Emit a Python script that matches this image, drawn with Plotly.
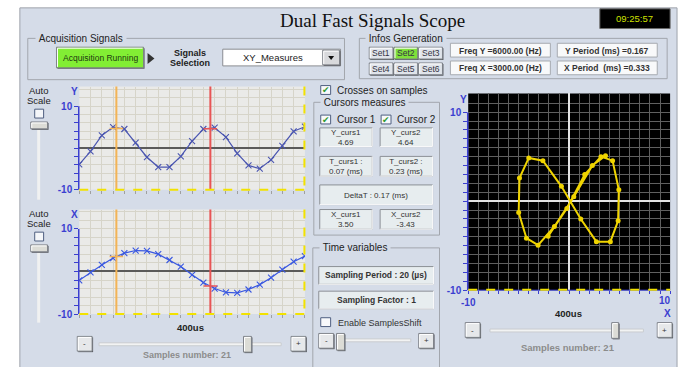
import plotly.graph_objects as go

W, H = 681, 367

# ---------------- data ----------------
samples = list(range(21))
y_signal = [-3.93, -0.82, 3.0, 5.0, 4.55, 1.28, -2.2, -4.55, -4.55, -2.0, 1.67,
            4.55, 4.86, 2.6, -1.28, -4.16, -4.94, -2.84, 0.5, 4.0, 5.1]
x_signal = [-2.08, -0.23, 1.54, 3.15, 4.3, 4.92, 4.85, 4.08, 2.7, 1.15, -0.77,
            -2.6, -4.0, -4.92, -5.0, -4.23, -3.08, -1.46, 0.46, 2.3, 3.6]
cursor_pos = [3.29, 11.62]
y_curs = [4.69, 4.64]
x_curs = [3.50, -3.43]
chart_ticks = [-10, -8, -6, -4, -2, 0, 2, 4, 6, 8, 10]
xy_ticks = list(range(-10, 11))
set_labels = ["Set1", "Set2", "Set3", "Set4", "Set5", "Set6"]

# ---------------- style ----------------
SANS = "Liberation Sans, Arial, sans-serif"
SERIF = "Liberation Serif, Times New Roman, serif"
PANEL = "#d5dce8"
EDGE = "#9a9fa8"
BLUE = "#3b3fd0"
GRID = "#d6d4c9"
PLOTBG = "#eaeae8"
ORANGE = "#f3b456"
RED = "#e85555"
YELLOW = "#f2e200"


def X(p):
    return p / W


def Y(p):
    return 1 - p / H


shapes = []
annos = []


def rect(x0, y0, x1, y1, fill=None, line=EDGE, lw=1, layer="below"):
    shapes.append(dict(type="rect", xref="paper", yref="paper",
                       x0=X(x0), x1=X(x1), y0=Y(y1), y1=Y(y0),
                       fillcolor=fill if fill else "rgba(0,0,0,0)",
                       line=dict(color=line, width=lw) if line else dict(width=0),
                       layer=layer))


def hline(x0, x1, y, color, lw=1, dash="solid", layer="below"):
    shapes.append(dict(type="line", xref="paper", yref="paper", x0=X(x0), x1=X(x1),
                       y0=Y(y), y1=Y(y), line=dict(color=color, width=lw, dash=dash),
                       layer=layer))


def vline(x, y0, y1, color, lw=1, dash="solid", layer="below"):
    shapes.append(dict(type="line", xref="paper", yref="paper", x0=X(x), x1=X(x),
                       y0=Y(y0), y1=Y(y1), line=dict(color=color, width=lw, dash=dash),
                       layer=layer))


def tri(pts, fill):
    d = "M " + " L ".join("%f,%f" % (X(a), Y(b)) for a, b in pts) + " Z"
    shapes.append(dict(type="path", xref="paper", yref="paper", path=d,
                       fillcolor=fill, line=dict(width=0), layer="below"))


def text(x, y, s, size=9.5, color="#222", bold=False, anchor="center",
         family=SANS, bg=None):
    a = dict(xref="paper", yref="paper", x=X(x), y=Y(y),
             text=("<b>%s</b>" % s) if bold else s, showarrow=False,
             xanchor=anchor, yanchor="middle", borderpad=0,
             font=dict(size=size, color=color, family=family))
    if bg:
        a["bgcolor"] = bg
    annos.append(a)


def button(x0, y0, x1, y1, fill="#e6e8ea", label=None, size=8, color="#333"):
    rect(x0 + 1, y0 + 1, x1 + 1, y1 + 1, fill="#5a5d62", line=None)
    rect(x0, y0, x1, y1, fill=fill, line="#7d8188")
    hline(x0 + 1, x1 - 1, y0 + 1, "#ffffff", 1)
    vline(x0 + 1, y0 + 1, y1 - 1, "#ffffff", 1)
    if label:
        text((x0 + x1) / 2, (y0 + y1) / 2, label, size=size, color=color)


def checkbox(x0, y0, checked):
    rect(x0, y0, x0 + 10, y0 + 9, fill="#f8f9fb", line="#4f5f80")
    if checked:
        text(x0 + 5, y0 + 4.5, "✔", size=9, color="#2f9a2f", family="DejaVu Sans")


def infobox(x0, y0, x1, y1, label=None, fill="#e7edef"):
    rect(x0, y0, x1, y1, fill=fill, line="#8c9096")
    hline(x0, x1, y1, "#ffffff", 1)
    vline(x1, y0, y1, "#ffffff", 1)
    if label:
        text((x0 + x1) / 2, (y0 + y1) / 2 + 0.5, label, size=8, color="#333")


def groupbox(x0, y0, x1, y1, title, tx):
    rect(x0, y0, x1, y1, fill=None, line="#a2a6ad")
    text(tx, y0, "\u00a0" + title + "\u00a0", size=10, color="#222", anchor="left", bg=PANEL)


def hslider(minus, plus, track, thumb, ty):
    button(*minus, label="-")
    button(*plus, label="+")
    rect(track[0], ty - 1.5, track[1], ty + 1.5, fill="#f2f3f3", line="#c9ccd0")
    button(*thumb, fill="#dcdcd6")


# ---------------- main panel ----------------
rect(13, 8, 677, 375, fill=PANEL, line="#9ea3ab")

# title and clock
text(369, 21, "Dual Fast Signals Scope", size=19, color="#111", family=SERIF)
rect(599, 9, 670, 29, fill="#000000", line="#6a6a6a")
text(634.5, 19, "09:25:57", size=9.5, color="#cfe000")

# Acquisition Signals group
groupbox(21, 39, 341, 81, "Acquisition Signals", 28)
button(50, 48, 138, 69, fill="#82ee34", label="Acquisition Running", size=8.5, color="#1d3a12")
tri([(142, 54), (149, 59.5), (142, 65)], "#333333")
text(185, 54, "Signals", size=9, bold=True)
text(185, 64, "Selection", size=9, bold=True)
rect(218, 50, 337, 67, fill="#ffffff", line="#8a8d92")
text(269, 58.5, "XY_Measures", size=9.5)
button(319, 51, 336, 66, fill="#d8d9dc")
tri([(324.5, 57), (330.5, 57), (327.5, 61)], "#111111")

# Infos Generation group
groupbox(356, 39, 667, 80, "Infos Generation", 362)
for i, lab in enumerate(set_labels):
    cx0 = 366 + 25 * (i % 3)
    cy0 = 48 if i < 3 else 64
    button(cx0, cy0, cx0 + 24, cy0 + 12, fill="#7fe03a" if lab == "Set2" else "#e0e4ea",
           label=lab, size=8.5, color="#334")
for (bx0, by0, bx1, by1, lab) in [(448, 44, 549, 58, "Freq Y =6000.00 (Hz)"),
                                  (448, 62, 549, 76, "Freq X =3000.00 (Hz)"),
                                  (556, 44, 657, 58, "Y Period (ms) =0.167"),
                                  (556, 62, 657, 76, "X Period \u00a0(ms) =0.333")]:
    rect(bx0, by0, bx1, by1, fill="#f8f9fa", line="#a6aab0")
    text((bx0 + bx1) / 2, (by0 + by1) / 2 + 0.5, lab, size=8.5, bold=True, color="#333")

# ---------------- left controls ----------------
for top in (0, 125):
    text(32, 92 + top, "Auto", size=9.5)
    text(32, 102 + top, "Scale", size=9.5)
    rect(28, 111 + top, 37, 120 + top, fill="#f4f6f9", line="#4f5f80")
    rect(30.5, 131 + top, 33.5, 203 + top, fill="#f0f1f1", line=None)
    button(24, 124 + top, 41, 131 + top, fill="#dcdcd6")

text(68, 93, "Y", size=10, color=BLUE, bold=True)
text(68, 218, "X", size=10, color=BLUE, bold=True)
text(185, 333, "400us", size=9.5, bold=True, color="#222")
hslider((71, 342, 86, 357), (287, 342, 302, 357), (93, 277), (239, 342, 247, 358), 350)
text(182, 361, "Samples number: 21", size=9, bold=True, color="#8c8c8c")

# ---------------- middle controls ----------------
checkbox(317, 87, True)
text(332, 91.5, "Crosses on samples", size=10, anchor="left")
groupbox(310, 104, 437, 239, "Cursors measures", 316)
checkbox(317, 117, True)
text(332, 121.5, "Cursor 1", size=10, anchor="left")
checkbox(378, 117, True)
text(393, 121.5, "Cursor 2", size=10, anchor="left")
infobox(316, 130, 369, 149, "Y_curs1<br>%.2f" % y_curs[0])
infobox(377, 130, 430, 149, "Y_curs2<br>%.2f" % y_curs[1])
infobox(316, 159, 369, 179, "T_curs1 :<br>0.07 (ms)")
infobox(377, 159, 430, 179, "T_curs2 :<br>0.23 (ms)")
infobox(316, 188, 430, 208, "DeltaT : 0.17 (ms)")
infobox(316, 213, 369, 233, "X_curs1<br>%.2f" % x_curs[0])
infobox(377, 213, 430, 233, "X_curs2<br>%.2f" % x_curs[1])

groupbox(309, 252, 437, 380, "Time variables", 315)
infobox(315, 271, 431, 289)
text(373, 280, "Sampling Period : 20 (\u00b5s)", size=8.5, bold=True, color="#333")
infobox(315, 296, 431, 314)
text(373, 305, "Sampling Factor : 1", size=8.5, bold=True, color="#333")
checkbox(317, 323, False)
text(333, 328, "Enable SamplesShift", size=9, anchor="left", color="#333")
hslider((315, 339, 330, 354), (416, 339, 431, 354), (341, 408), (333, 339, 341, 356), 346)

# ---------------- right controls ----------------
text(461, 101, "Y", size=10, color=BLUE, bold=True)
text(672, 306, "10", size=10, color=BLUE, bold=True, anchor="right")
text(667, 319, "X", size=10, color=BLUE, bold=True)
text(567, 319, "400us", size=9.5, bold=True, color="#222")
hslider((463, 328, 478, 343), (657, 328, 672, 343), (488, 643), (611, 328, 618, 344), 336)
text(567, 353, "Samples number: 21", size=9.5, bold=True, color="#8c8c8c")

# ---------------- plot backgrounds ----------------
for ax in ("", "2"):
    shapes.append(dict(type="rect", xref="x%s domain" % ax, yref="y%s domain" % ax,
                       x0=0, x1=1, y0=0, y1=1, fillcolor=PLOTBG, line=dict(width=0),
                       layer="below"))
shapes.append(dict(type="rect", xref="x3 domain", yref="y3 domain", x0=0, x1=1, y0=0, y1=1,
                   fillcolor="#000000", line=dict(width=0), layer="below"))

# cursors on both time charts
curs_vals = [y_curs, x_curs]
for k, ax in enumerate(("", "2")):
    for c, col, val in zip(cursor_pos, (ORANGE, RED), curs_vals[k]):
        shapes.append(dict(type="line", xref="x%s" % ax, yref="y%s domain" % ax,
                           x0=c, x1=c, y0=0, y1=1, line=dict(color=col, width=2),
                           layer="above"))
        shapes.append(dict(type="line", xref="x%s" % ax, yref="y%s" % ax,
                           x0=c - 0.6, x1=c + 0.6, y0=val, y1=val,
                           line=dict(color=col, width=1.5), layer="above"))

# frame decorations of the charts
for top, bot in ((108, 193), (232.7, 319.3)):
    vline(72.5, top, bot, BLUE, 1.5, layer="above")
for top, bot in ((88, 193), (213, 319.3)):
    hline(73, 301, bot, YELLOW, 2, dash="dash", layer="above")
    vline(300.5, top, bot, YELLOW, 2, dash="dash", layer="above")
vline(465.5, 114.3, 295, BLUE, 1.5, layer="above")
hline(466, 670, 295, BLUE, 1, layer="above")
hline(466, 670, 294.5, YELLOW, 2, dash="dash", layer="above")

# ---------------- traces ----------------
fig = go.Figure()
fig.add_trace(go.Scatter(x=samples, y=y_signal, mode="lines+markers", xaxis="x", yaxis="y",
                         line=dict(color="#4a55b0", width=1.2),
                         marker=dict(symbol="x-thin", size=6,
                                     line=dict(color="#4a55b0", width=1.1)),
                         hoverinfo="skip"))
fig.add_trace(go.Scatter(x=samples, y=x_signal, mode="lines+markers", xaxis="x2", yaxis="y2",
                         line=dict(color="#3a58e0", width=1.2),
                         marker=dict(symbol="x-thin", size=6,
                                     line=dict(color="#3a58e0", width=1.1)),
                         hoverinfo="skip"))
fig.add_trace(go.Scatter(x=x_signal, y=y_signal, mode="lines+markers", xaxis="x3", yaxis="y3",
                         line=dict(color="#f0d400", width=2),
                         marker=dict(symbol="circle", size=5, color="#f0d400"),
                         hoverinfo="skip"))


def lab(v):
    return "<b>%d</b>" % v if abs(v) == 10 else ""


time_x = dict(range=[0, 20], tickmode="linear", tick0=0, dtick=1, ticks="outside", ticklen=3,
              tickcolor="#a0a0a0", showticklabels=False, showgrid=True, gridcolor=GRID,
              gridwidth=1, zeroline=False, showline=False, fixedrange=True)
time_y = dict(tickmode="array", tickvals=chart_ticks, ticktext=[lab(v) for v in chart_ticks],
              ticks="outside", ticklen=4, tickcolor=BLUE, tickfont=dict(color=BLUE, size=10, family=SANS),
              showgrid=True, gridcolor=GRID, gridwidth=1,
              minor=dict(tickvals=[12, 14], showgrid=True, gridcolor=GRID, gridwidth=1, ticks=""),
              zeroline=True, zerolinecolor="#5a5a5a", zerolinewidth=1.5, showline=False,
              fixedrange=True)

fig.update_layout(
    width=W, height=H, margin=dict(l=0, r=0, t=0, b=0),
    paper_bgcolor="#ffffff", plot_bgcolor="rgba(0,0,0,0)", showlegend=False,
    hovermode=False,
    xaxis=dict(domain=[X(73), X(301)], anchor="y", **time_x),
    yaxis=dict(domain=[Y(193), Y(88)], range=[-10, 14.7], anchor="x", **time_y),
    xaxis2=dict(domain=[X(73), X(301)], anchor="y2", **time_x),
    yaxis2=dict(domain=[Y(319.3), Y(213)], range=[-10, 14.55], anchor="x2", **time_y),
    xaxis3=dict(domain=[X(466), X(670)], anchor="y3", range=[-10, 10], tickmode="array",
                tickvals=xy_ticks, ticktext=["<b>-10</b>" if v == -10 else "" for v in xy_ticks],
                ticks="outside",
                ticklen=3, tickcolor=BLUE, tickfont=dict(color=BLUE, size=10, family=SANS),
                showgrid=True, gridcolor="#606060", gridwidth=1, zeroline=True,
                zerolinecolor="#e4e4e4", zerolinewidth=2, showline=False, fixedrange=True),
    yaxis3=dict(domain=[Y(295), Y(95)], anchor="x3", range=[-10, 12.1], tickmode="array",
                tickvals=xy_ticks, ticktext=[lab(v) for v in xy_ticks], ticks="outside",
                ticklen=4, tickcolor=BLUE, tickfont=dict(color=BLUE, size=10, family=SANS),
                showgrid=True, gridcolor="#606060", gridwidth=1,
                minor=dict(tickvals=[11, 12], showgrid=True, gridcolor="#606060", ticks=""),
                zeroline=True, zerolinecolor="#e4e4e4", zerolinewidth=2, showline=False,
                fixedrange=True),
    shapes=shapes, annotations=annos,
)

fig.write_html("out.html", config={"displayModeBar": False},
               post_script="document.body.style.margin='0';document.body.style.overflow='hidden';")
